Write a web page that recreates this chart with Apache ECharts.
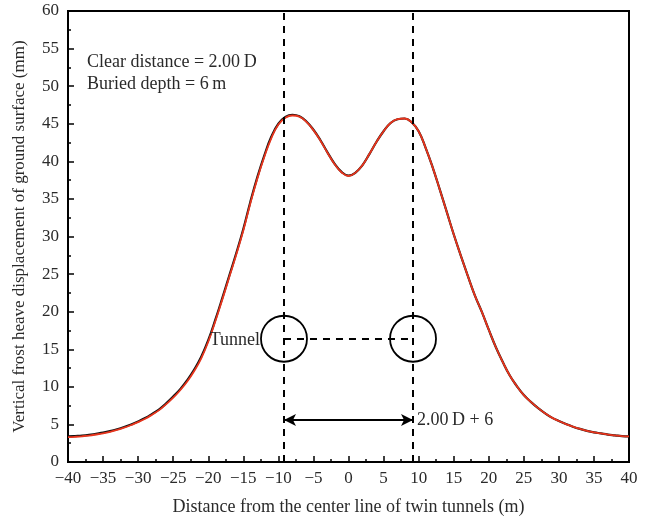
<!DOCTYPE html>
<html><head><meta charset="utf-8">
<script src="https://cdn.jsdelivr.net/npm/echarts@6/dist/echarts.min.js"></script>
<style>html,body{margin:0;padding:0;background:#fff}#c{width:649px;height:522px}</style>
</head><body><div id="c"></div>
<script>
const xValues = [-40,-39,-38,-37,-36,-35,-34,-33,-32,-31,-30,-29,-28,-27,-26,-25,-24,-23,-22,-21,-20,-19,-18,-17,-16,-15,-14,-13,-12,-11,-10,-9,-8,-7,-6,-5,-4,-3,-2,-1,0,1,2,3,4,5,6,7,8,9,10,11,12,13,14,15,16,17,18,19,20,21,22,23,24,25,26,27,28,29,30,31,32,33,34,35,36,37,38,39,40];
const blackValues = [3.4,3.45,3.5,3.6,3.75,3.9,4.1,4.35,4.65,5.0,5.4,5.85,6.4,7.0,7.8,8.7,9.7,10.9,12.3,14.0,16.2,18.9,21.8,24.8,27.8,31.0,34.6,37.9,40.8,43.3,45.0,45.9,46.2,46.0,45.3,44.2,42.8,41.2,39.7,38.6,38.1,38.5,39.5,41.0,42.6,44.0,45.1,45.6,45.7,45.2,44.0,41.8,39.2,36.3,33.3,30.3,27.5,24.8,22.2,20.0,17.6,15.3,13.3,11.5,10.1,8.9,8.0,7.2,6.5,5.9,5.45,5.05,4.7,4.4,4.15,3.95,3.8,3.65,3.55,3.45,3.4];
const redValues = [3.3,3.35,3.42,3.52,3.66,3.82,4.02,4.27,4.57,4.92,5.3,5.75,6.3,6.9,7.7,8.55,9.55,10.7,12.1,13.8,16.0,18.7,21.6,24.6,27.6,30.8,34.4,37.7,40.6,43.1,44.9,45.8,46.1,45.95,45.25,44.15,42.75,41.15,39.65,38.55,38.05,38.5,39.5,41.0,42.6,44.0,45.1,45.6,45.7,45.2,44.0,41.8,39.2,36.3,33.3,30.3,27.5,24.8,22.2,20.0,17.6,15.3,13.3,11.5,10.1,8.9,8.0,7.2,6.5,5.9,5.45,5.05,4.7,4.4,4.15,3.95,3.8,3.65,3.55,3.45,3.4];
const tunnelX = [-9.2, 9.2];
const tunnelY = 16.4;
const arrowY = 5.6;
const xTicks = {min:-40, max:40, interval:5};
const yTicks = {min:0, max:60, interval:5};

const FONT = '"Liberation Serif", "DejaVu Serif", serif';
const TXT = '#2a2a2a';
const chart = echarts.init(document.getElementById('c'), null, {renderer:'canvas'});
const toPairs = (xs, ys) => xs.map((x,i)=>[x, ys[i]]);
const minus = v => String(v).replace('-', '\u2212');

chart.setOption({
  animation:false,
  backgroundColor:'#fff',
  grid:{left:68, right:20, top:11, bottom:60, show:true, borderColor:'#000', borderWidth:2, backgroundColor:'transparent'},
  xAxis:{type:'value', min:xTicks.min, max:xTicks.max, interval:xTicks.interval,
    name:'Distance from the center line of twin tunnels (m)', nameLocation:'middle', nameGap:36,
    nameTextStyle:{fontFamily:FONT, fontSize:18, color:TXT},
    axisLine:{show:true, onZero:false, lineStyle:{color:'#000', width:1.5}},
    axisTick:{show:true, inside:true, length:6, lineStyle:{color:'#000', width:1.5}},
    minorTick:{show:true, splitNumber:2, length:3, lineStyle:{color:'#000', width:1.5}},
    axisLabel:{fontFamily:FONT, fontSize:17, color:TXT, margin:8, formatter:minus},
    splitLine:{show:false}},
  yAxis:{type:'value', min:yTicks.min, max:yTicks.max, interval:yTicks.interval,
    name:'Vertical frost heave displacement of ground surface (mm)', nameLocation:'middle', nameGap:40,
    nameTextStyle:{fontFamily:FONT, fontSize:17, color:TXT},
    axisLine:{show:true, onZero:false, lineStyle:{color:'#000', width:1.5}},
    axisTick:{show:true, inside:true, length:6, lineStyle:{color:'#000', width:1.5}},
    minorTick:{show:true, splitNumber:2, length:3, lineStyle:{color:'#000', width:1.5}},
    axisLabel:{fontFamily:FONT, fontSize:17, color:TXT, margin:9},
    splitLine:{show:false}},
  series:[
    {type:'line', data:toPairs(xValues, blackValues), smooth:0.45, showSymbol:false, lineStyle:{color:'#111', width:2.2}, z:3},
    {type:'line', data:toPairs(xValues, redValues), smooth:0.45, showSymbol:false, lineStyle:{color:'#e8341c', width:1.8}, z:4},
    {type:'line', data:[], z:2,
      markLine:{silent:true, symbol:['none','none'], label:{show:false},
        lineStyle:{color:'#000', type:[7,6], width:2},
        data:[[{coord:[tunnelX[0],yTicks.min]},{coord:[tunnelX[0],yTicks.max]}],
              [{coord:[tunnelX[1],yTicks.min]},{coord:[tunnelX[1],yTicks.max]}],
              [{coord:[tunnelX[0],tunnelY]},{coord:[tunnelX[1],tunnelY]}]]}},
    {type:'line', data:[], z:2,
      markLine:{silent:true, symbol:['arrow','arrow'], symbolSize:[9,12], label:{show:false},
        lineStyle:{color:'#000', type:'solid', width:2},
        data:[[{coord:[tunnelX[0],arrowY]},{coord:[tunnelX[1],arrowY]}]]}},
    {type:'scatter', data:tunnelX.map(x=>[x,tunnelY]), symbol:'circle', symbolSize:46, z:5,
      itemStyle:{color:'rgba(0,0,0,0)', borderColor:'#000', borderWidth:1.8, opacity:1}},
    {type:'scatter', data:[[tunnelX[0], tunnelY]], symbolSize:0, z:6, itemStyle:{opacity:1},
      label:{show:true, position:'left', distance:24, offset:[0,2], formatter:'Tunnel', fontFamily:FONT, fontSize:18, color:TXT}},
    {type:'scatter', data:[[tunnelX[1], arrowY]], symbolSize:0, z:6, itemStyle:{opacity:1},
      label:{show:true, position:'right', distance:4, formatter:'2.00\u2009D + 6', fontFamily:FONT, fontSize:18, color:TXT}}
  ],
  graphic:[
    {type:'text', x:87, y:62, style:{text:'Clear distance = 2.00\u2009D', font:'18px '+FONT, fill:TXT, verticalAlign:'middle'}},
    {type:'text', x:87, y:84, style:{text:'Buried depth = 6\u2009m', font:'18px '+FONT, fill:TXT, verticalAlign:'middle'}}
  ]
});
</script></body></html>
